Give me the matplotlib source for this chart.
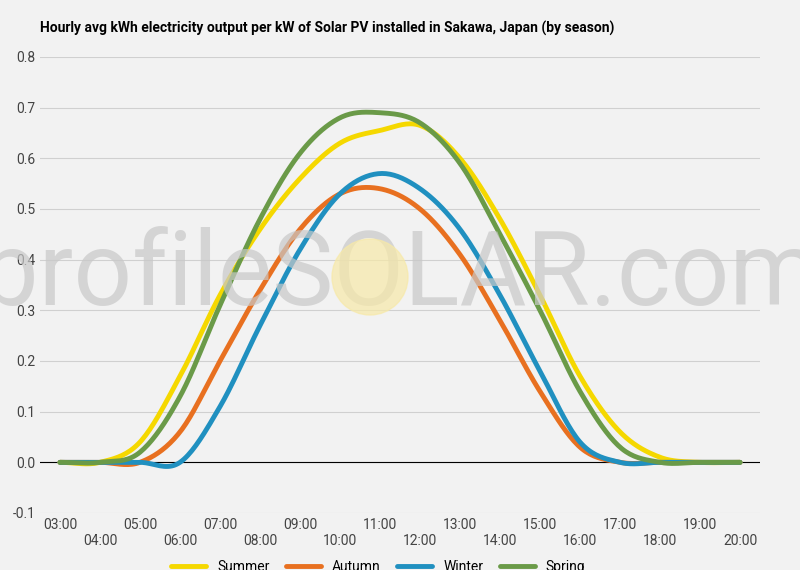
import numpy as np
import matplotlib.pyplot as plt
from matplotlib.patches import Circle

hours = list(range(3, 21))
summer = [0, 0.0, 0.04, 0.17, 0.33, 0.46, 0.56, 0.63, 0.655, 0.665, 0.60, 0.48, 0.33, 0.17, 0.06, 0.01, 0, 0]
autumn = [0, 0, 0, 0.06, 0.20, 0.34, 0.46, 0.53, 0.54, 0.50, 0.41, 0.28, 0.14, 0.03, 0, 0, 0, 0]
winter = [0, 0, 0, 0, 0.11, 0.27, 0.42, 0.53, 0.57, 0.54, 0.46, 0.33, 0.18, 0.04, 0, 0, 0, 0]
spring = [0, 0, 0.02, 0.13, 0.31, 0.48, 0.61, 0.68, 0.69, 0.67, 0.59, 0.45, 0.30, 0.14, 0.03, 0, 0, 0]
tick_labels = [f"{h:02d}:00" for h in hours]

def smooth(x, y, n=20):
    x = np.asarray(x, float); y = np.asarray(y, float)
    xs, ys = [], []
    for i in range(len(x) - 1):
        p0 = y[max(i - 1, 0)]; p1 = y[i]; p2 = y[i + 1]; p3 = y[min(i + 2, len(y) - 1)]
        m1 = (p2 - p0) / 2; m2 = (p3 - p1) / 2
        t = np.linspace(0, 1, n, endpoint=False)
        h00 = 2*t**3 - 3*t**2 + 1; h10 = t**3 - 2*t**2 + t
        h01 = -2*t**3 + 3*t**2; h11 = t**3 - t**2
        xs.append(x[i] + t); ys.append(h00*p1 + h10*m1 + h01*p2 + h11*m2)
    xs.append([x[-1]]); ys.append([y[-1]])
    return np.concatenate(xs), np.concatenate(ys)

plt.rcParams['font.family'] = ['Roboto', 'DejaVu Sans']
bg = '#f2f2f2'
fig = plt.figure(figsize=(8, 5.7), dpi=100, facecolor=bg)
ax = fig.add_axes([0.05, 0.1, 0.9, 0.8], facecolor=bg)

series = [("Summer", summer, '#f5d800'), ("Autumn", autumn, '#e87020'),
          ("Winter", winter, '#2090c0'), ("Spring", spring, '#6a9a48')]
for name, vals, c in series:
    xs, ys = smooth(hours, vals)
    ax.plot(xs, ys, color=c, lw=3.5, label=name, zorder=3, solid_capstyle='round')

ax.set_xlim(2.5, 20.5)
ax.set_ylim(-0.1, 0.8)
ax.set_yticks(np.arange(-0.1, 0.81, 0.1))
ax.set_yticklabels([f"{v:.1f}" for v in np.arange(-0.1, 0.81, 0.1)])
ax.set_xticks(hours)
ax.set_xticklabels([l if i % 2 == 0 else "\n" + l for i, l in enumerate(tick_labels)])
ax.tick_params(length=0, labelsize=10, colors='#444444')
ax.grid(axis='y', color='#d0d0d0', lw=0.8)
ax.axhline(0, color='black', lw=0.8, zorder=2)
for s in ax.spines.values():
    s.set_visible(False)

fig.patches.append(Circle((370, 570 - 277), 38, transform=None, color='#f7e9a8', alpha=0.7, zorder=0.5))
fig.text(0.5, 0.515, "profileSOLAR.com", fontsize=74, color='#c8c8c8', alpha=0.7,
         ha='center', va='center', zorder=0)

fig.text(0.05, 0.95, "Hourly avg kWh electricity output per kW of Solar PV installed in Sakawa, Japan (by season)",
         fontsize=10, fontweight='bold', va='center')
ax.legend(loc='upper center', bbox_to_anchor=(0.47, -0.085), ncol=4, frameon=False,
          fontsize=10, handlelength=2.5, columnspacing=1.2, borderpad=0.1)
fig.savefig('out.png', facecolor=bg)
